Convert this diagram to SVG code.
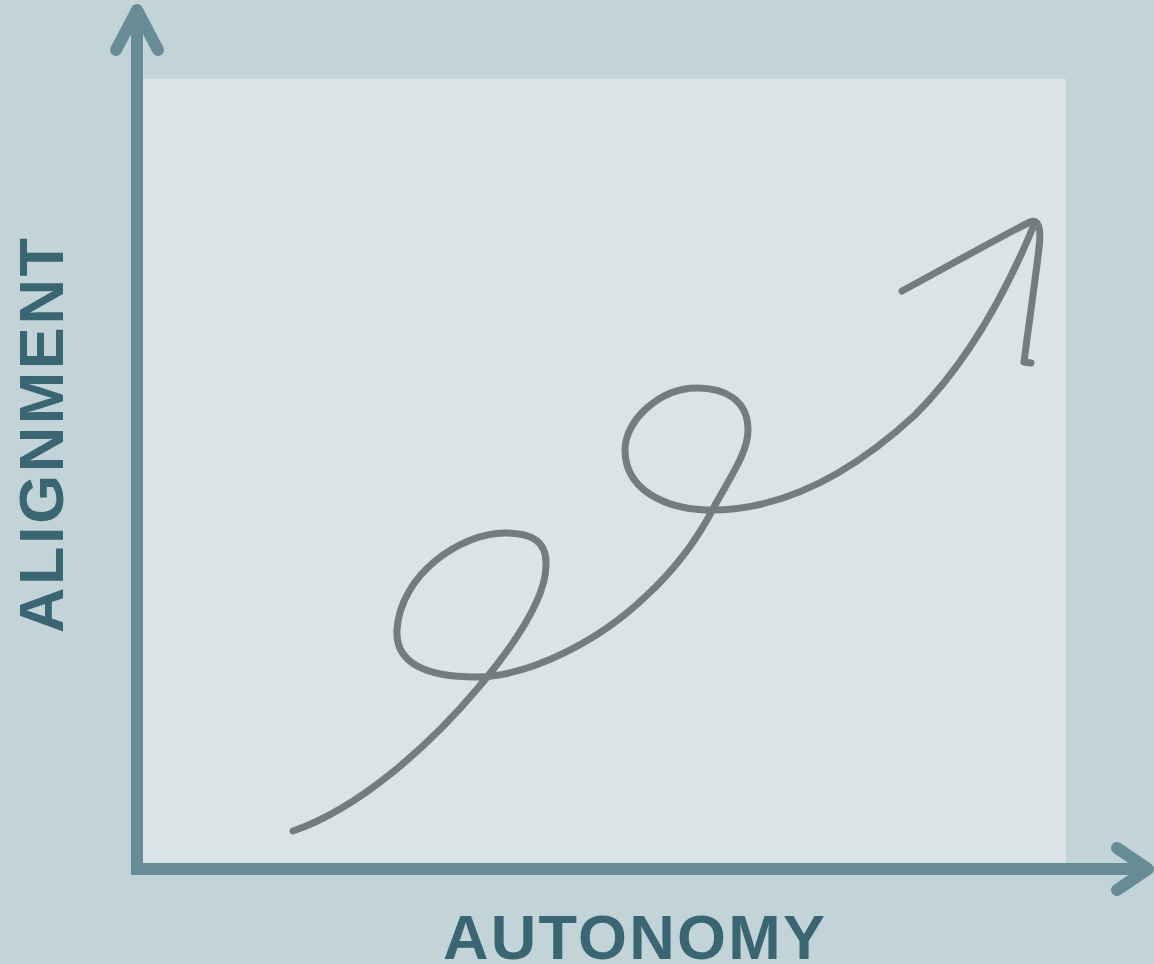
<svg xmlns="http://www.w3.org/2000/svg" width="1154" height="964" viewBox="0 0 1154 964">
<style>
.axis{fill:none;stroke:#678c95;stroke-width:12;stroke-linecap:round;stroke-linejoin:round}
.butt{stroke-linecap:butt}
.lbl{font-family:"Liberation Sans",Arial,sans-serif;font-weight:bold;font-size:63px;fill:#3a6673}
.curve{fill:none;stroke:#737c7e;stroke-width:7;stroke-linecap:round;stroke-linejoin:round}
</style>
<rect x="0" y="0" width="1154" height="964" fill="#c3d4d9"/>
<rect id="panel" x="143" y="79" width="923" height="786" fill="#dae4e7"/>
<g id="axes">
<path class="axis butt" d="M137,875 L137,10"/>
<path class="axis" d="M116,50 L137,10 L158,50"/>
<path class="axis butt" d="M131,869 L1146,869"/>
<path class="axis" d="M1117,848 L1148,869 L1117,890"/>
</g>
<g id="labels">
<text class="lbl" transform="translate(63,633) rotate(-90)" textLength="395" lengthAdjust="spacing">ALIGNMENT</text>
<text class="lbl" x="443" y="959" textLength="382" lengthAdjust="spacing">AUTONOMY</text>
</g>
<g id="connectors">
<path class="curve" d="M293,831 C360,808 430,745 478,688 C510,650 546,600 546,565 C547,540 530,533 505,533 C460,533 400,575 397,630 C395,665 430,677 475,677 C530,677 600,640 645,597 C680,565 700,535 715,505 C735,470 748,450 748,430 C748,400 725,388 697,388 C660,388 625,420 625,450 C625,490 665,508 705,510 C780,512 850,475 915,415 C965,365 1005,295 1034,225"/>
<path class="curve" d="M902,291 C950,265 1000,237 1030,222 C1040,218 1041,232 1039,248 C1034,290 1028,330 1024,362 L1031,363"/>
</g>
</svg>
